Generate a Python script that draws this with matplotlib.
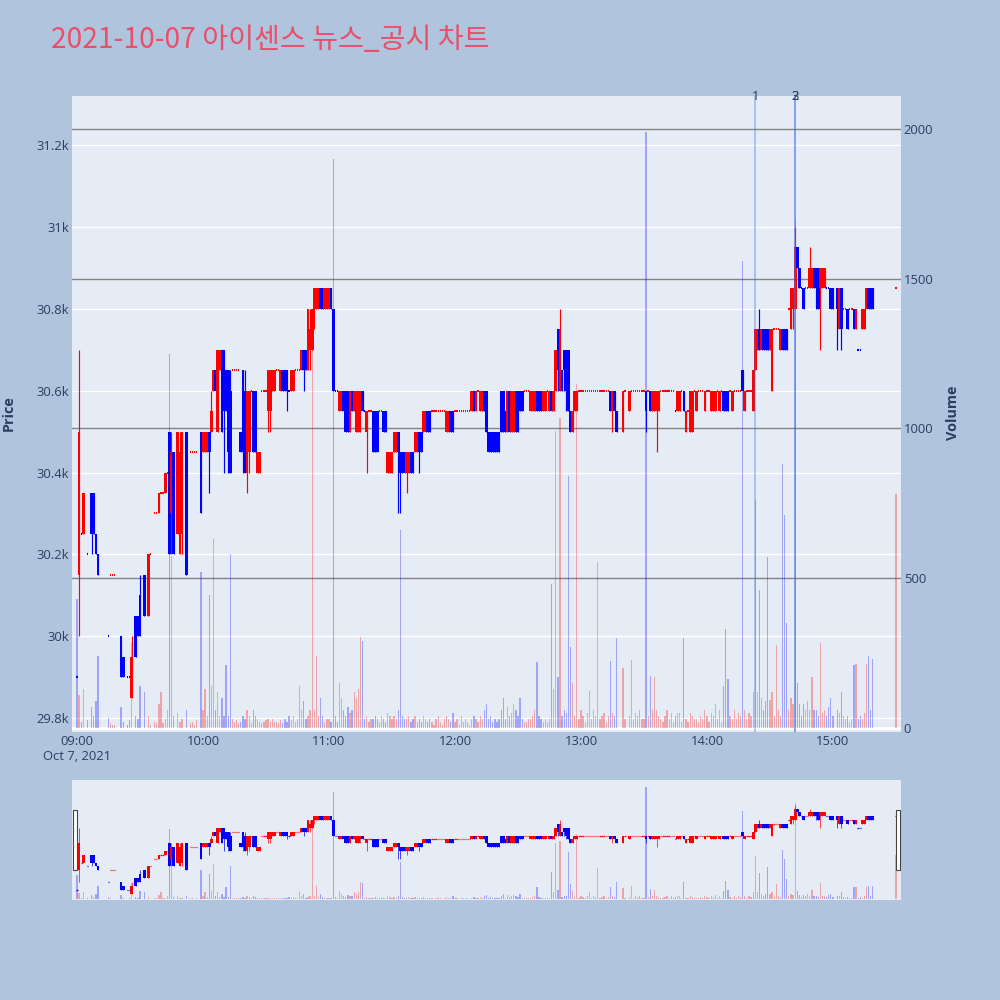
import numpy as np
import matplotlib.pyplot as plt
from matplotlib.transforms import blended_transform_factory

# ---- data (1-minute candles) ----
title = "2021-10-07 아이센스 뉴스_공시 차트"
news_times = ["14:23", "14:42", "14:42"]
news_labels = ["1", "2", "3"]
hour_ticks = ["09:00", "10:00", "11:00", "12:00", "13:00", "14:00", "15:00"]
price_ticks = [29800, 30000, 30200, 30400, 30600, 30800, 31000, 31200]
price_tick_labels = ["29.8k", "30k", "30.2k", "30.4k", "30.6k", "30.8k", "31k", "31.2k"]
volume_ticks = [0, 500, 1000, 1500, 2000]

# (time, open, high, low, close, volume)
bars_09 = [
    ("09:00", 29900, 29900, 29900, 29900, 430), ("09:01", 30150, 30700, 30000, 30500, 110),
    ("09:02", 30250, 30250, 30250, 30250, 20), ("09:03", 30250, 30350, 30250, 30350, 130),
    ("09:05", 30200, 30200, 30200, 30200, 25), ("09:07", 30350, 30350, 30200, 30250, 70),
    ("09:08", 30350, 30350, 30250, 30250, 40), ("09:09", 30250, 30250, 30200, 30200, 90),
    ("09:10", 30200, 30200, 30150, 30150, 240), ("09:15", 30000, 30000, 30000, 30000, 35),
    ("09:16", 30150, 30150, 30150, 30150, 15), ("09:17", 30150, 30150, 30150, 30150, 10),
    ("09:18", 30150, 30150, 30150, 30150, 10), ("09:21", 30000, 30000, 29900, 29900, 70),
    ("09:22", 29950, 29950, 29900, 29900, 20), ("09:24", 29900, 29900, 29900, 29900, 10),
    ("09:25", 29900, 29900, 29900, 29900, 25), ("09:26", 29850, 30000, 29850, 29950, 285),
    ("09:28", 30050, 30050, 29950, 29950, 40), ("09:29", 30050, 30050, 30000, 30000, 30),
    ("09:30", 30100, 30150, 30000, 30000, 140), ("09:32", 30150, 30150, 30050, 30050, 120),
    ("09:34", 30050, 30200, 30050, 30200, 40), ("09:35", 30200, 30200, 30200, 30200, 10),
    ("09:37", 30300, 30300, 30300, 30300, 20), ("09:38", 30300, 30300, 30300, 30300, 15),
    ("09:39", 30300, 30350, 30300, 30350, 80), ("09:40", 30350, 30350, 30350, 30350, 120),
    ("09:41", 30350, 30350, 30350, 30350, 15), ("09:42", 30350, 30400, 30350, 30400, 30),
    ("09:43", 30400, 30400, 30400, 30400, 60), ("09:44", 30500, 30500, 30200, 30200, 1250),
    ("09:45", 30300, 30500, 30200, 30450, 575), ("09:46", 30450, 30450, 30200, 30200, 40),
    ("09:48", 30250, 30500, 30250, 30500, 50), ("09:49", 30200, 30500, 30200, 30450, 20),
    ("09:50", 30250, 30500, 30200, 30500, 30), ("09:52", 30500, 30500, 30150, 30150, 60),
    ("09:54", 30450, 30450, 30450, 30450, 15), ("09:55", 30450, 30450, 30450, 30450, 20),
    ("09:56", 30450, 30450, 30450, 30450, 10), ("09:57", 30450, 30450, 30450, 30450, 25),
    ("09:59", 30500, 30500, 30300, 30300, 520),
]
bars_10 = [
    ("10:00", 30450, 30500, 30450, 30500, 60), ("10:01", 30450, 30500, 30450, 30500, 130),
    ("10:02", 30450, 30500, 30450, 30500, 40), ("10:03", 30500, 30500, 30350, 30450, 445),
    ("10:04", 30500, 30600, 30500, 30550, 140), ("10:05", 30600, 30650, 30600, 30650, 630),
    ("10:06", 30650, 30650, 30600, 30600, 60), ("10:07", 30500, 30700, 30500, 30700, 120),
    ("10:08", 30650, 30700, 30650, 30700, 40), ("10:09", 30700, 30700, 30500, 30500, 100),
    ("10:10", 30700, 30700, 30400, 30550, 40), ("10:11", 30650, 30650, 30550, 30550, 210),
    ("10:12", 30650, 30650, 30400, 30450, 40), ("10:13", 30600, 30650, 30400, 30400, 580),
    ("10:14", 30650, 30650, 30650, 30650, 30), ("10:15", 30650, 30650, 30650, 30650, 20),
    ("10:16", 30650, 30650, 30650, 30650, 25), ("10:17", 30650, 30650, 30650, 30650, 15),
    ("10:18", 30500, 30500, 30450, 30450, 20), ("10:19", 30650, 30650, 30400, 30450, 40),
    ("10:20", 30600, 30650, 30400, 30400, 30), ("10:21", 30400, 30600, 30350, 30600, 60),
    ("10:22", 30450, 30600, 30400, 30600, 40), ("10:23", 30600, 30600, 30600, 30600, 15),
    ("10:24", 30600, 30600, 30450, 30450, 60), ("10:25", 30600, 30600, 30450, 30450, 40),
    ("10:26", 30400, 30450, 30400, 30450, 30), ("10:27", 30400, 30450, 30400, 30450, 20),
    ("10:28", 30600, 30600, 30600, 30600, 15), ("10:29", 30600, 30600, 30600, 30600, 20),
    ("10:30", 30600, 30600, 30600, 30600, 25), ("10:31", 30550, 30650, 30500, 30650, 30),
    ("10:32", 30550, 30650, 30500, 30650, 20), ("10:33", 30600, 30650, 30600, 30650, 30),
    ("10:34", 30600, 30650, 30600, 30650, 20), ("10:35", 30650, 30650, 30650, 30650, 20),
    ("10:36", 30650, 30650, 30650, 30650, 15), ("10:37", 30600, 30650, 30600, 30650, 25),
    ("10:38", 30650, 30650, 30600, 30600, 15), ("10:39", 30650, 30650, 30600, 30600, 30),
    ("10:40", 30650, 30650, 30550, 30600, 20), ("10:41", 30600, 30600, 30600, 30600, 40),
    ("10:42", 30600, 30650, 30600, 30650, 25), ("10:43", 30600, 30650, 30600, 30650, 40),
    ("10:44", 30650, 30650, 30650, 30650, 20), ("10:45", 30650, 30650, 30650, 30650, 30),
    ("10:46", 30650, 30650, 30650, 30650, 140), ("10:47", 30650, 30700, 30650, 30700, 60),
    ("10:48", 30700, 30700, 30600, 30650, 90), ("10:49", 30700, 30700, 30650, 30650, 30),
    ("10:50", 30650, 30800, 30650, 30800, 40), ("10:51", 30700, 30800, 30650, 30750, 60),
    ("10:52", 30700, 30800, 30700, 30800, 1400), ("10:53", 30800, 30850, 30750, 30850, 60),
    ("10:54", 30800, 30850, 30800, 30850, 240), ("10:55", 30800, 30850, 30800, 30850, 40),
    ("10:56", 30850, 30850, 30800, 30800, 100), ("10:57", 30850, 30850, 30800, 30800, 40),
    ("10:58", 30800, 30850, 30800, 30850, 20), ("10:59", 30800, 30850, 30800, 30850, 30),
]
bars_11 = [
    ("11:00", 30800, 30850, 30800, 30850, 30), ("11:01", 30850, 30850, 30800, 30800, 20),
    ("11:02", 30800, 30800, 30600, 30600, 1900), ("11:03", 30600, 30600, 30600, 30600, 40),
    ("11:04", 30600, 30600, 30600, 30600, 20), ("11:05", 30550, 30600, 30550, 30600, 150),
    ("11:06", 30550, 30600, 30550, 30600, 100), ("11:07", 30600, 30600, 30550, 30550, 60),
    ("11:08", 30600, 30600, 30500, 30500, 40), ("11:09", 30600, 30600, 30500, 30500, 70),
    ("11:10", 30500, 30600, 30500, 30600, 50), ("11:11", 30600, 30600, 30550, 30550, 60),
    ("11:12", 30550, 30600, 30550, 30600, 120), ("11:13", 30500, 30600, 30500, 30600, 100),
    ("11:14", 30500, 30600, 30500, 30600, 130), ("11:15", 30550, 30600, 30500, 30600, 305),
    ("11:16", 30600, 30600, 30550, 30550, 290), ("11:17", 30550, 30550, 30550, 30550, 30),
    ("11:18", 30500, 30550, 30400, 30550, 40), ("11:19", 30550, 30550, 30550, 30550, 20),
    ("11:20", 30550, 30550, 30550, 30550, 30), ("11:21", 30550, 30550, 30450, 30450, 30),
    ("11:22", 30550, 30550, 30450, 30450, 40), ("11:23", 30550, 30550, 30450, 30450, 30),
    ("11:24", 30550, 30550, 30550, 30550, 20), ("11:25", 30550, 30550, 30550, 30550, 40),
    ("11:26", 30550, 30550, 30500, 30500, 30), ("11:27", 30550, 30550, 30500, 30500, 20),
    ("11:28", 30400, 30450, 30400, 30450, 50), ("11:29", 30400, 30450, 30400, 30450, 40),
    ("11:30", 30400, 30450, 30400, 30450, 30), ("11:31", 30450, 30500, 30450, 30500, 40),
    ("11:32", 30450, 30500, 30450, 30500, 30), ("11:33", 30500, 30500, 30300, 30450, 60),
    ("11:34", 30450, 30450, 30300, 30400, 660), ("11:35", 30450, 30450, 30400, 30400, 40),
    ("11:36", 30450, 30450, 30400, 30400, 30), ("11:37", 30400, 30450, 30350, 30450, 30),
    ("11:38", 30400, 30450, 30400, 30450, 40), ("11:39", 30450, 30450, 30400, 30400, 20),
    ("11:40", 30450, 30450, 30400, 30400, 30), ("11:41", 30450, 30500, 30450, 30500, 40),
    ("11:42", 30450, 30500, 30450, 30500, 20), ("11:43", 30500, 30500, 30400, 30450, 30),
    ("11:44", 30500, 30500, 30450, 30450, 20), ("11:45", 30500, 30550, 30500, 30550, 40),
    ("11:46", 30500, 30550, 30500, 30550, 30), ("11:47", 30550, 30550, 30500, 30500, 20),
    ("11:48", 30550, 30550, 30500, 30500, 30), ("11:49", 30550, 30550, 30550, 30550, 20),
    ("11:50", 30550, 30550, 30550, 30550, 10), ("11:51", 30550, 30550, 30550, 30550, 30),
    ("11:52", 30550, 30550, 30550, 30550, 40), ("11:53", 30550, 30550, 30550, 30550, 20),
    ("11:54", 30550, 30550, 30550, 30550, 10), ("11:55", 30550, 30550, 30550, 30550, 30),
    ("11:56", 30500, 30550, 30500, 30550, 40), ("11:57", 30500, 30550, 30500, 30550, 30),
    ("11:58", 30550, 30550, 30500, 30500, 20), ("11:59", 30550, 30550, 30500, 30500, 50),
]
bars_12 = [
    ("12:00", 30550, 30550, 30550, 30550, 20), ("12:01", 30550, 30550, 30550, 30550, 30),
    ("12:02", 30550, 30550, 30550, 30550, 10), ("12:03", 30550, 30550, 30550, 30550, 40),
    ("12:04", 30550, 30550, 30550, 30550, 20), ("12:05", 30550, 30550, 30550, 30550, 30),
    ("12:06", 30550, 30550, 30550, 30550, 20), ("12:07", 30550, 30550, 30550, 30550, 10),
    ("12:08", 30550, 30600, 30550, 30600, 30), ("12:09", 30600, 30600, 30550, 30550, 40),
    ("12:10", 30550, 30600, 30550, 30600, 30), ("12:11", 30600, 30600, 30600, 30600, 20),
    ("12:12", 30550, 30600, 30550, 30600, 40), ("12:13", 30550, 30600, 30550, 30600, 30),
    ("12:14", 30600, 30600, 30550, 30550, 60), ("12:15", 30600, 30600, 30500, 30500, 80),
    ("12:16", 30500, 30500, 30450, 30450, 30), ("12:17", 30500, 30500, 30450, 30450, 40),
    ("12:18", 30500, 30500, 30450, 30450, 20), ("12:19", 30500, 30500, 30450, 30450, 30),
    ("12:20", 30500, 30500, 30450, 30450, 20), ("12:21", 30500, 30500, 30450, 30450, 30),
    ("12:22", 30600, 30600, 30500, 30500, 60), ("12:23", 30600, 30600, 30500, 30500, 100),
    ("12:24", 30550, 30550, 30500, 30500, 30), ("12:25", 30500, 30600, 30500, 30600, 70),
    ("12:26", 30600, 30600, 30500, 30500, 40), ("12:27", 30500, 30600, 30500, 30600, 50),
    ("12:28", 30500, 30600, 30500, 30600, 80), ("12:29", 30600, 30600, 30500, 30500, 60),
    ("12:30", 30600, 30600, 30500, 30500, 40), ("12:31", 30600, 30600, 30550, 30550, 100),
    ("12:32", 30600, 30600, 30550, 30550, 30), ("12:33", 30600, 30600, 30600, 30600, 20),
    ("12:34", 30600, 30600, 30600, 30600, 20), ("12:35", 30600, 30600, 30600, 30600, 30),
    ("12:36", 30550, 30600, 30550, 30600, 30), ("12:37", 30550, 30600, 30550, 30600, 40),
    ("12:38", 30550, 30600, 30550, 30600, 60), ("12:39", 30600, 30600, 30550, 30550, 220),
    ("12:40", 30600, 30600, 30550, 30550, 40), ("12:41", 30600, 30600, 30550, 30550, 30),
    ("12:42", 30550, 30600, 30550, 30600, 20), ("12:43", 30550, 30600, 30550, 30600, 30),
    ("12:44", 30600, 30600, 30600, 30600, 20), ("12:45", 30550, 30600, 30550, 30600, 30),
    ("12:46", 30600, 30600, 30550, 30550, 480), ("12:47", 30550, 30600, 30550, 30600, 130),
    ("12:48", 30600, 30700, 30600, 30700, 990), ("12:49", 30750, 30750, 30600, 30650, 170),
    ("12:50", 30600, 30800, 30600, 30750, 1035), ("12:51", 30650, 30650, 30600, 30600, 40),
    ("12:52", 30700, 30700, 30600, 30650, 60), ("12:53", 30700, 30700, 30550, 30600, 50),
    ("12:54", 30700, 30700, 30550, 30550, 840), ("12:55", 30550, 30550, 30500, 30500, 270),
    ("12:56", 30500, 30550, 30500, 30550, 150), ("12:57", 30550, 30600, 30550, 30600, 40),
    ("12:58", 30550, 30600, 30550, 30600, 1150), ("12:59", 30600, 30600, 30600, 30600, 30),
]
bars_13 = [
    ("13:00", 30600, 30600, 30600, 30600, 60), ("13:01", 30600, 30600, 30600, 30600, 40),
    ("13:02", 30600, 30600, 30600, 30600, 20), ("13:03", 30600, 30600, 30600, 30600, 50),
    ("13:04", 30600, 30600, 30600, 30600, 123), ("13:05", 30600, 30600, 30600, 30600, 30),
    ("13:06", 30600, 30600, 30600, 30600, 60), ("13:07", 30600, 30600, 30600, 30600, 40),
    ("13:08", 30600, 30600, 30600, 30600, 553), ("13:09", 30600, 30600, 30600, 30600, 30),
    ("13:10", 30600, 30600, 30600, 30600, 40), ("13:11", 30600, 30600, 30600, 30600, 50),
    ("13:12", 30600, 30600, 30600, 30600, 20), ("13:13", 30600, 30600, 30600, 30600, 40),
    ("13:14", 30600, 30600, 30550, 30550, 225), ("13:15", 30550, 30600, 30500, 30600, 50),
    ("13:16", 30600, 30600, 30550, 30550, 40), ("13:17", 30550, 30550, 30500, 30500, 300),
    ("13:20", 30500, 30600, 30500, 30600, 200), ("13:21", 30600, 30600, 30600, 30600, 30),
    ("13:23", 30550, 30600, 30550, 30600, 40), ("13:24", 30600, 30600, 30600, 30600, 227),
    ("13:25", 30600, 30600, 30600, 30600, 30), ("13:26", 30600, 30600, 30600, 30600, 50),
    ("13:27", 30600, 30600, 30600, 30600, 40), ("13:28", 30600, 30600, 30600, 30600, 60),
    ("13:29", 30600, 30600, 30600, 30600, 30), ("13:30", 30600, 30600, 30600, 30600, 30),
    ("13:31", 30600, 30600, 30500, 30550, 1990), ("13:32", 30600, 30600, 30600, 30600, 40),
    ("13:33", 30600, 30600, 30550, 30550, 175), ("13:34", 30550, 30600, 30550, 30600, 60),
    ("13:35", 30550, 30600, 30550, 30600, 170), ("13:36", 30550, 30600, 30450, 30600, 60),
    ("13:37", 30550, 30600, 30550, 30600, 40), ("13:38", 30600, 30600, 30600, 30600, 30),
    ("13:39", 30600, 30600, 30600, 30600, 20), ("13:40", 30600, 30600, 30600, 30600, 40),
    ("13:41", 30600, 30600, 30600, 30600, 60), ("13:42", 30600, 30600, 30600, 30600, 30),
    ("13:43", 30600, 30600, 30600, 30600, 50), ("13:44", 30600, 30600, 30600, 30600, 20),
    ("13:45", 30550, 30550, 30550, 30550, 40), ("13:46", 30550, 30600, 30550, 30600, 50),
    ("13:47", 30550, 30600, 30550, 30600, 50), ("13:48", 30600, 30600, 30600, 30600, 20),
    ("13:49", 30600, 30600, 30550, 30550, 300), ("13:50", 30500, 30550, 30500, 30550, 30),
    ("13:51", 30550, 30550, 30550, 30550, 20), ("13:52", 30500, 30600, 30500, 30600, 50),
    ("13:53", 30500, 30600, 30500, 30600, 40), ("13:54", 30600, 30600, 30600, 30600, 30),
    ("13:55", 30550, 30600, 30550, 30600, 30), ("13:56", 30600, 30600, 30600, 30600, 20),
    ("13:57", 30600, 30600, 30600, 30600, 40), ("13:58", 30600, 30600, 30600, 30600, 30),
    ("13:59", 30550, 30600, 30550, 30600, 60),
]
bars_14 = [
    ("14:00", 30600, 30600, 30600, 30600, 40), ("14:01", 30600, 30600, 30600, 30600, 20),
    ("14:02", 30550, 30600, 30550, 30600, 50), ("14:03", 30550, 30600, 30550, 30600, 40),
    ("14:04", 30550, 30600, 30550, 30600, 80), ("14:05", 30600, 30600, 30600, 30600, 30),
    ("14:06", 30550, 30600, 30550, 30600, 60), ("14:07", 30600, 30600, 30600, 30600, 20),
    ("14:08", 30600, 30600, 30550, 30550, 140), ("14:09", 30600, 30600, 30550, 30550, 330),
    ("14:10", 30600, 30600, 30550, 30550, 165), ("14:11", 30600, 30600, 30600, 30600, 40),
    ("14:12", 30550, 30600, 30550, 30600, 30), ("14:13", 30600, 30600, 30600, 30600, 60),
    ("14:14", 30600, 30600, 30600, 30600, 30), ("14:15", 30600, 30600, 30600, 30600, 50),
    ("14:16", 30600, 30600, 30600, 30600, 40), ("14:17", 30650, 30650, 30600, 30600, 1560),
    ("14:18", 30550, 30600, 30550, 30600, 60), ("14:19", 30600, 30600, 30600, 30600, 30),
    ("14:20", 30600, 30600, 30600, 30600, 50), ("14:21", 30600, 30600, 30600, 30600, 40),
    ("14:22", 30550, 30650, 30550, 30650, 120), ("14:23", 30650, 30750, 30650, 30750, 760),
    ("14:24", 30700, 30750, 30700, 30750, 120), ("14:25", 30750, 30800, 30700, 30700, 460),
    ("14:26", 30700, 30750, 30700, 30750, 100), ("14:27", 30750, 30750, 30700, 30700, 60),
    ("14:28", 30750, 30750, 30700, 30700, 90), ("14:29", 30750, 30750, 30700, 30700, 570),
    ("14:30", 30700, 30750, 30700, 30750, 95), ("14:31", 30600, 30750, 30600, 30750, 120),
    ("14:32", 30750, 30750, 30750, 30750, 40), ("14:33", 30750, 30750, 30750, 30750, 277),
    ("14:34", 30750, 30750, 30750, 30750, 60), ("14:35", 30700, 30750, 30700, 30750, 40),
    ("14:36", 30750, 30750, 30700, 30700, 880), ("14:37", 30750, 30750, 30700, 30700, 710),
    ("14:38", 30750, 30750, 30700, 30700, 350), ("14:39", 30800, 30800, 30800, 30800, 60),
    ("14:40", 30750, 30850, 30750, 30850, 100), ("14:41", 30800, 30850, 30750, 30850, 80),
    ("14:42", 30800, 31000, 30800, 30950, 1700), ("14:43", 30950, 30950, 30900, 30900, 150),
    ("14:44", 30900, 30900, 30850, 30850, 80), ("14:45", 30850, 30850, 30850, 30850, 40),
    ("14:46", 30850, 30850, 30800, 30800, 80), ("14:47", 30850, 30850, 30850, 30850, 60),
    ("14:48", 30850, 30850, 30850, 30850, 90), ("14:49", 30850, 30950, 30850, 30900, 60),
    ("14:50", 30850, 30900, 30850, 30900, 170), ("14:51", 30900, 30900, 30850, 30850, 60),
    ("14:52", 30900, 30900, 30800, 30850, 60), ("14:53", 30900, 30900, 30800, 30800, 40),
    ("14:54", 30850, 30900, 30700, 30900, 285), ("14:55", 30850, 30900, 30850, 30900, 50),
    ("14:56", 30850, 30900, 30850, 30900, 60), ("14:57", 30850, 30850, 30850, 30850, 40),
    ("14:58", 30850, 30850, 30850, 30850, 70), ("14:59", 30850, 30850, 30800, 30800, 100),
]
bars_15 = [
    ("15:00", 30850, 30850, 30800, 30800, 40), ("15:02", 30850, 30850, 30700, 30800, 60),
    ("15:03", 30750, 30850, 30750, 30850, 50), ("15:04", 30850, 30850, 30700, 30750, 120),
    ("15:05", 30800, 30800, 30800, 30800, 40), ("15:06", 30800, 30800, 30800, 30800, 30),
    ("15:07", 30800, 30800, 30750, 30750, 40), ("15:08", 30800, 30800, 30800, 30800, 20),
    ("15:09", 30800, 30800, 30800, 30800, 30), ("15:10", 30800, 30800, 30750, 30750, 210),
    ("15:11", 30750, 30800, 30750, 30800, 215), ("15:12", 30700, 30700, 30700, 30700, 30),
    ("15:13", 30700, 30700, 30700, 30700, 40), ("15:14", 30750, 30800, 30750, 30800, 30),
    ("15:15", 30750, 30800, 30750, 30800, 50), ("15:16", 30800, 30850, 30800, 30850, 215),
    ("15:17", 30850, 30850, 30800, 30800, 240), ("15:18", 30850, 30850, 30800, 30800, 60),
    ("15:19", 30850, 30850, 30800, 30800, 230), ("15:30", 30850, 30850, 30850, 30850, 780),
]

RED, BLUE = "#ff0000", "#0000ff"
BG_PAPER, BG_PLOT = "#b0c4de", "#e5ecf6"
TXT = "#2a3f5f"
FONT = ["Open Sans", "DejaVu Sans"]
KFONT = ["Noto Sans CJK KR", "DejaVu Sans"]
TICK_SIZE = 9.4


def to_min(t):
    hh, mm = t.split(":")
    return (int(hh) - 9) * 60 + int(mm)


rows = bars_09 + bars_10 + bars_11 + bars_12 + bars_13 + bars_14 + bars_15
x = np.array([to_min(r[0]) for r in rows], dtype=float)
o, h, l, c, v = (np.array([r[i] for r in rows], dtype=float) for i in range(1, 6))

# plotly-like direction: flat candles follow the previous close
up = []
prev_c, prev_up = None, False
for oi, ci in zip(o, c):
    if ci > oi:
        d = True
    elif ci < oi:
        d = False
    elif prev_c is None:
        d = False
    elif ci > prev_c:
        d = True
    elif ci < prev_c:
        d = False
    else:
        d = prev_up
    up.append(d)
    prev_c, prev_up = ci, d
up = np.array(up)
cols = np.where(up, RED, BLUE)

XLIM = (-2.38, 392.4)
PLIM = (29766, 31320)
VLIM = (-13.4, 2110)


def draw_volume(ax, width):
    vcols = [(1, 0, 0, 0.3) if u else (0, 0, 1, 0.3) for u in up]
    ax.bar(x, v, width=width, color=vcols, linewidth=0, zorder=2)


def draw_candles(ax, wick_lw, doji_lw):
    ax.vlines(x, l, h, colors=cols, lw=wick_lw, zorder=3)
    flat = o == c
    body = ~flat
    ax.bar(x[body], np.abs(c - o)[body], width=1.3, bottom=np.minimum(o, c)[body],
           color=cols[body], linewidth=0, zorder=4)
    ax.hlines(c[flat], x[flat] - 0.32, x[flat] + 0.32, colors=cols[flat], lw=doji_lw, zorder=4)


fig = plt.figure(figsize=(10, 10), dpi=100)
fig.patch.set_facecolor(BG_PAPER)

# ---- main chart ----
rect = [0.072, 0.268, 0.829, 0.636]
ax_v = fig.add_axes(rect)
ax_p = fig.add_axes(rect, sharex=ax_v)
ax_v.set_facecolor(BG_PLOT)
ax_p.patch.set_visible(False)
for a in (ax_v, ax_p):
    for s in a.spines.values():
        s.set_visible(False)
ax_v.set_xlim(*XLIM)
ax_v.set_ylim(*VLIM)
ax_p.set_ylim(*PLIM)

# grids (price: white, volume: gray) drawn under the bars
tr_p = blended_transform_factory(ax_v.transAxes, ax_p.transData)
for p in price_ticks:
    ax_v.plot([0, 1], [p, p], transform=tr_p, color="white", lw=1.0, zorder=0.5)
for vt in volume_ticks[1:]:
    ax_v.axhline(vt, color="#858585", lw=1.0, zorder=0.6)
ax_v.axhline(0, color="white", lw=2.0, zorder=0.7)

draw_volume(ax_v, 0.6)
draw_candles(ax_p, 0.85, 1.5)

# news markers
for t, lab in zip(news_times, news_labels):
    m = to_min(t)
    ax_p.axvline(m, color="royalblue", alpha=0.35, lw=1.4, zorder=6)
    ax_p.text(m, 1.0, lab, transform=blended_transform_factory(ax_p.transData, ax_p.transAxes),
              ha="center", va="center", fontsize=9.4, color=TXT, family=FONT, zorder=7)

ax_p.set_yticks(price_ticks)
ax_p.set_yticklabels(price_tick_labels)
ax_p.tick_params(axis="y", length=0, pad=2, labelsize=TICK_SIZE, labelcolor=TXT)
ax_v.yaxis.tick_right()
ax_v.set_yticks(volume_ticks)
ax_v.set_yticklabels([str(t) for t in volume_ticks])
ax_v.tick_params(axis="y", length=0, pad=2, labelsize=TICK_SIZE, labelcolor=TXT)

xt = [to_min(t) for t in hour_ticks]
ax_p.set_xticks(xt)
ax_p.set_xticklabels([hour_ticks[0] + "\nOct 7, 2021"] + hour_ticks[1:])
ax_p.tick_params(axis="x", length=0, pad=2, labelsize=TICK_SIZE, labelcolor=TXT)
ax_v.tick_params(axis="x", length=0, labelbottom=False)
for lab in ax_p.get_xticklabels() + ax_p.get_yticklabels() + ax_v.get_yticklabels():
    lab.set_family(FONT)
    lab.set_linespacing(1.25)

fig.text(0.009, 1 - 0.413, "Price", rotation=90, ha="center", va="center",
         fontsize=10.4, color=TXT, family=FONT, fontweight="bold")
fig.text(0.953, 1 - 0.413, "Volume", rotation=90, ha="center", va="center",
         fontsize=10.4, color=TXT, family=FONT, fontweight="bold")
fig.text(0.051, 1 - 0.040, title, ha="left", va="center", fontsize=20.3,
         color="#e8506a", family=KFONT)

# ---- range slider ----
srect = [0.072, 0.100, 0.829, 0.120]
sl_v = fig.add_axes(srect)
sl_p = fig.add_axes(srect, sharex=sl_v)
sl_v.set_facecolor(BG_PLOT)
sl_p.patch.set_visible(False)
for a in (sl_v, sl_p):
    for s in a.spines.values():
        s.set_visible(False)
    a.set_xticks([])
    a.set_yticks([])
sl_v.set_xlim(*XLIM)
sl_v.set_ylim(*VLIM)
sl_p.set_ylim(*PLIM)
draw_volume(sl_v, 0.6)
draw_candles(sl_p, 0.5, 0.9)
for xe in (XLIM[0] + 1.2, XLIM[1] - 1.2):
    sl_p.add_patch(plt.Rectangle((xe - 0.95, 0.25), 1.9, 0.5,
                                 transform=blended_transform_factory(sl_p.transData, sl_p.transAxes),
                                 facecolor="white", edgecolor="#444444", lw=0.8,
                                 zorder=8, clip_on=False))

fig.savefig("out.png", dpi=100, facecolor=BG_PAPER)
